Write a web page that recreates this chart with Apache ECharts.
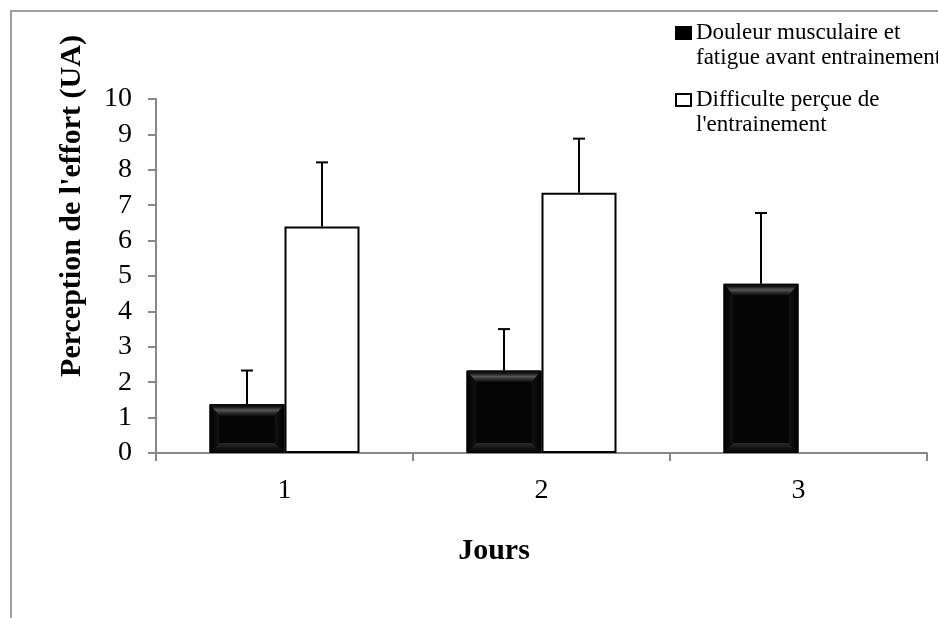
<!DOCTYPE html>
<html>
<head>
<meta charset="utf-8">
<script src="https://cdn.jsdelivr.net/npm/echarts@6/dist/echarts.min.js"></script>
<style>
  html, body { margin: 0; padding: 0; background: #fff; }
  #chart { width: 938px; height: 618px; }
</style>
</head>
<body>
<div id="chart"></div>
<script>
// Training days and the two perceived-effort measures (arbitrary units)
const days = ['1', '2', '3'];
const douleur = [1.38, 2.33, 4.78];          // muscle soreness & fatigue before training
const difficulte = [6.4, 7.35, null];        // perceived difficulty of the session
const douleurSD = [0.95, 1.17, 2.0];
const difficulteSD = [1.81, 1.53, null];
const yTickValues = [0, 1, 2, 3, 4, 5, 6, 7, 8, 9, 10];

const nameDouleur = 'Douleur musculaire et\nfatigue avant entrainement';
const nameDifficulte = "Difficulte perçue de\nl'entrainement";

const FONT = '"Liberation Serif", "Times New Roman", serif';
const BAR_W = 75;
const AXIS_GREY = '#888888';
const LEGEND_LINE = 24.5;

const chart = echarts.init(document.getElementById('chart'), null, { renderer: 'canvas' });

// Upward-only error bar drawn at the centre of the bar it belongs to
function errorBarItem(side) {
  return function (params, api) {
    const cat = api.value(0);
    const mean = api.value(1);
    const sd = api.value(2);
    if (mean == null || isNaN(mean) || sd == null || isNaN(sd)) return null;
    const base = api.coord([cat, mean]);
    const top = api.coord([cat, mean + sd]);
    const x = base[0] + side * BAR_W / 2;
    const cap = 6;
    const style = { stroke: '#000', lineWidth: 2 };
    return {
      type: 'group',
      children: [
        { type: 'line', shape: { x1: x, y1: base[1], x2: x, y2: top[1] }, style: style },
        { type: 'line', shape: { x1: x - cap, y1: top[1], x2: x + cap, y2: top[1] }, style: style }
      ]
    };
  };
}

// Bevelled edges on the dark bars
function bevelItem(params, api) {
  const cat = api.value(0);
  const v = api.value(1);
  if (v == null || isNaN(v)) return null;
  const topPt = api.coord([cat, v]);
  const basePt = api.coord([cat, 0]);
  const x0 = topPt[0] - BAR_W, x1 = topPt[0];
  const y0 = topPt[1], y1 = basePt[1];
  const b = Math.min(10, (y1 - y0) / 3);
  const bt = Math.min(12, (y1 - y0) / 3);
  const poly = (pts, fill) => ({ type: 'polygon', shape: { points: pts }, style: { fill: fill }, silent: true });
  const grad = (gx1, gy1, gx2, gy2, stops) => new echarts.graphic.LinearGradient(gx1, gy1, gx2, gy2,
    stops.map((c, i) => ({ offset: i / (stops.length - 1), color: c })));
  return {
    type: 'group',
    children: [
      poly([[x0, y0], [x1, y0], [x1 - b, y0 + bt], [x0 + b, y0 + bt]],
        grad(0, 0, 0, 1, ['#000000', '#1a1a1a', '#555555', '#2a2a2a', '#0a0a0a'])),
      poly([[x0, y0], [x0 + b, y0 + bt], [x0 + b, y1 - b], [x0, y1]], grad(0, 0, 1, 0, ['#000000', '#141414'])),
      poly([[x1, y0], [x1, y1], [x1 - b, y1 - b], [x1 - b, y0 + bt]], grad(1, 0, 0, 0, ['#000000', '#141414'])),
      poly([[x0, y1], [x0 + b, y1 - b], [x1 - b, y1 - b], [x1, y1]], grad(0, 1, 0, 0, ['#000000', '#2a2a2a'])),
      { type: 'rect', shape: { x: x0 + b, y: y0 + bt, width: BAR_W - 2 * b, height: Math.max(0, y1 - y0 - bt - b) },
        style: { fill: '#050505' }, silent: true }
    ]
  };
}

// Legend text gets an empty leading line so the swatch sits beside the first line
const legendText = { fontFamily: FONT, fontSize: 23, color: '#000', lineHeight: LEGEND_LINE };
const legendFormatter = name => '\n' + name;

const option = {
  animation: false,
  backgroundColor: '#fff',
  grid: { left: 156, right: 11, top: 99, bottom: 165, containLabel: false, outerBoundsMode: 'none' },
  legend: [
    {
      data: [nameDouleur], orient: 'vertical', left: 675, top: 33 - 1.5 * LEGEND_LINE, padding: 0,
      itemWidth: 15, itemHeight: 12, itemGap: 0, icon: 'rect',
      textStyle: legendText, formatter: legendFormatter, selectedMode: false
    },
    {
      data: [nameDifficulte], orient: 'vertical', left: 675, top: 100 - 1.5 * LEGEND_LINE, padding: 0,
      itemWidth: 15, itemHeight: 12, itemGap: 0, icon: 'rect',
      textStyle: legendText, formatter: legendFormatter, selectedMode: false
    }
  ],
  xAxis: {
    type: 'category',
    data: days,
    boundaryGap: true,
    axisLine: { lineStyle: { color: AXIS_GREY, width: 2 } },
    axisTick: { show: true, length: 8, lineStyle: { color: AXIS_GREY, width: 2 } },
    axisLabel: { fontFamily: FONT, fontSize: 28, color: '#000', margin: 24 },
    splitLine: { show: false }
  },
  yAxis: {
    type: 'value',
    min: yTickValues[0],
    max: yTickValues[yTickValues.length - 1],
    interval: 1,
    axisLine: { show: true, lineStyle: { color: AXIS_GREY, width: 2 } },
    axisTick: { show: true, length: 8, lineStyle: { color: AXIS_GREY, width: 2 } },
    axisLabel: { fontFamily: FONT, fontSize: 28, color: '#000', margin: 24 },
    splitLine: { show: false }
  },
  series: [
    {
      name: nameDouleur,
      type: 'bar',
      data: douleur,
      barWidth: BAR_W,
      barGap: '0%',
      itemStyle: { color: '#000', borderColor: '#000', borderWidth: 1 },
      z: 2
    },
    {
      name: nameDifficulte,
      type: 'bar',
      data: difficulte,
      barWidth: BAR_W,
      barGap: '0%',
      itemStyle: { color: '#fff', borderColor: '#000', borderWidth: 2 },
      z: 2
    },
    {
      type: 'custom',
      name: 'bevel',
      renderItem: bevelItem,
      data: douleur.map((v, i) => [i, v]),
      encode: { x: 0, y: 1 },
      z: 3,
      silent: true
    },
    {
      type: 'custom',
      name: 'err-douleur',
      renderItem: errorBarItem(-1),
      data: douleur.map((v, i) => [i, v, douleurSD[i]]),
      encode: { x: 0, y: 1 },
      z: 4,
      silent: true
    },
    {
      type: 'custom',
      name: 'err-difficulte',
      renderItem: errorBarItem(1),
      data: difficulte.map((v, i) => [i, v, difficulteSD[i]]),
      encode: { x: 0, y: 1 },
      z: 4,
      silent: true
    }
  ],
  graphic: [
    {
      type: 'polyline',
      shape: { points: [[11, 618], [11, 11], [938, 11]] },
      style: { stroke: '#a0a0a0', lineWidth: 2, fill: null },
      silent: true
    },
    {
      type: 'text',
      x: 72, y: 206,
      rotation: Math.PI / 2,
      style: {
        text: "Perception de l'effort (UA)",
        font: 'bold 30px ' + FONT,
        fill: '#000',
        align: 'center',
        verticalAlign: 'middle'
      }
    },
    {
      type: 'text',
      x: 494, y: 551,
      style: {
        text: 'Jours',
        font: 'bold 30px ' + FONT,
        fill: '#000',
        align: 'center',
        verticalAlign: 'middle'
      }
    }
  ]
};

chart.setOption(option);
</script>
</body>
</html>
